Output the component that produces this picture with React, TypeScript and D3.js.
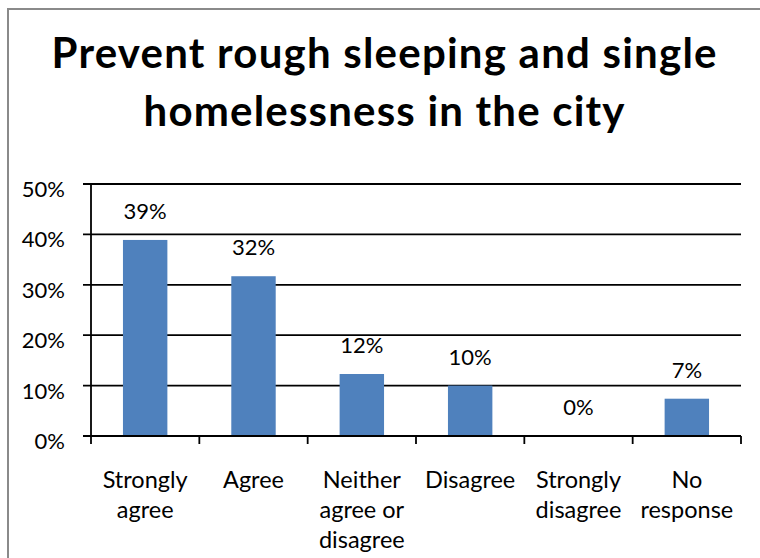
import { useEffect, useRef } from 'react'
import * as d3 from 'd3'

// survey answers, share of respondents (%)
const categories = [
  ['Strongly', 'agree'],
  ['Agree'],
  ['Neither', 'agree or', 'disagree'],
  ['Disagree'],
  ['Strongly', 'disagree'],
  ['No', 'response'],
]
const values = [38.9, 31.7, 12.3, 10.0, 0, 7.4]
const valueLabels = ['39%', '32%', '12%', '10%', '0%', '7%']
const yTicks = [0, 10, 20, 30, 40, 50]
const titleLines = ['Prevent rough sleeping and single', 'homelessness in the city']
const titleWidths = [665, 481]

export default function App() {
  const svgRef = useRef<SVGSVGElement>(null)

  useEffect(() => {
    const W = 760
    const H = 558
    const font = 'Lato, "Open Sans", sans-serif'
    const C = {
      bar: '#4f81bd',
      border: '#8a8a8a',
      text: '#000000',
    }
    const pad = { l: 91, r: 741, t: 184, b: 436 }

    const x = d3.scaleBand<number>().domain(d3.range(values.length)).range([pad.l, pad.r]).paddingInner(0.59).paddingOuter(0.295)
    const xEdge = d3.scaleLinear().domain([0, values.length]).range([pad.l, pad.r])
    const y = d3.scaleLinear().domain([0, 50]).range([pad.b, pad.t])

    const svg = d3.select(svgRef.current)
    svg.selectAll('*').remove()
    svg.attr('width', W).attr('height', H).style('background', '#fff')

    // chart frame
    svg.append('rect').attr('x', 8).attr('y', 9).attr('width', 800).attr('height', 600)
      .attr('fill', '#fff').attr('stroke', C.border).attr('stroke-width', 2)

    // title
    titleLines.forEach((t, i) => {
      svg.append('text').attr('x', 384).attr('y', 68 + i * 58).attr('text-anchor', 'middle')
        .attr('font-family', font).attr('font-weight', 'bold').attr('font-size', 42).attr('fill', C.text)
        .attr('textLength', titleWidths[i]).attr('lengthAdjust', 'spacing').text(t)
    })

    // gridlines + y ticks
    yTicks.forEach(v => {
      svg.append('line').attr('x1', pad.l - 8).attr('x2', pad.r).attr('y1', y(v)).attr('y2', y(v))
        .attr('stroke', '#000').attr('stroke-width', 1.8)
      svg.append('text').attr('x', 65).attr('y', y(v) + 13).attr('text-anchor', 'end')
        .attr('font-family', font).attr('font-size', 22).attr('fill', C.text).text(`${v}%`)
    })

    // y axis
    svg.append('line').attr('x1', pad.l).attr('x2', pad.l).attr('y1', pad.t).attr('y2', pad.b)
      .attr('stroke', '#000').attr('stroke-width', 1.8)

    // x ticks
    d3.range(values.length + 1).forEach(i => {
      svg.append('line').attr('x1', xEdge(i)).attr('x2', xEdge(i)).attr('y1', pad.b).attr('y2', pad.b + 8)
        .attr('stroke', '#000').attr('stroke-width', 1.8)
    })

    // bars
    values.forEach((v, i) => {
      if (v > 0) {
        svg.append('rect').attr('x', x(i)!).attr('y', y(v)).attr('width', x.bandwidth()).attr('height', y(0) - y(v)).attr('fill', C.bar)
      }
      svg.append('text').attr('x', x(i)! + x.bandwidth() / 2).attr('y', y(v) - 21).attr('text-anchor', 'middle')
        .attr('font-family', font).attr('font-size', 22).attr('fill', C.text).text(valueLabels[i])
    })

    // x axis line drawn last over the bars
    svg.append('line').attr('x1', pad.l - 8).attr('x2', pad.r).attr('y1', pad.b).attr('y2', pad.b)
      .attr('stroke', '#000').attr('stroke-width', 1.8)

    // category labels
    categories.forEach((lines, i) => {
      const cx = x(i)! + x.bandwidth() / 2
      lines.forEach((l, j) => {
        svg.append('text').attr('x', cx).attr('y', 488 + j * 30).attr('text-anchor', 'middle')
          .attr('font-family', font).attr('font-size', 23.5).attr('fill', C.text).text(l)
      })
    })
  }, [])

  return (
    <div style={{ position: 'absolute', left: 0, top: 0, width: 760, height: 558, overflow: 'hidden' }}>
      <svg ref={svgRef} style={{ display: 'block' }} />
    </div>
  )
}
